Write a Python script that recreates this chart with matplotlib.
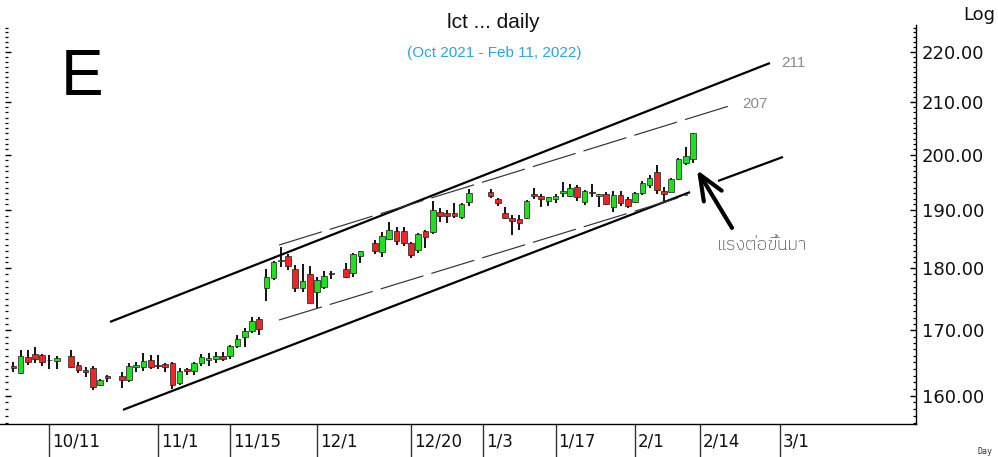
import numpy as np
import matplotlib
matplotlib.use("Agg")
import matplotlib.pyplot as plt
from matplotlib.ticker import FixedLocator, FixedFormatter, NullFormatter
import matplotlib.font_manager as fm
from matplotlib.ft2font import FT2Font

# ---------------- data (weekday index from 2021-10-11 = 0) ----------------
day_index = [-5, -4, -3, -2, -1, 0, 1, 3, 4, 5, 6, 7, 8, 10, 11, 12, 13, 14, 15, 16,
             17, 18, 19, 20, 21, 22, 23, 24, 25, 26, 27, 28, 29, 30, 31, 32, 33, 34, 35, 36,
             37, 38, 39, 41, 42, 43, 45, 46, 47, 48, 49, 50, 51, 52, 53, 54, 55, 56, 57, 58,
             61, 62, 63, 64, 65, 66, 67, 68, 69, 70, 71, 72, 73, 74, 75, 76, 77, 78, 79, 80,
             81, 82, 83, 84, 85, 86, 87, 88, 89]
opens = [164.5, 163.4, 165.8, 166.3, 166.1, 165.4, 165.2, 166.0, 164.6, 163.8, 164.1, 161.6, 162.9, 162.9, 162.3, 164.3, 164.3, 165.4, 164.6, 164.75,
         164.9, 161.9, 164.0, 163.7, 164.9, 165.4, 165.5, 166.0, 166.0, 167.5, 168.9, 169.9, 171.8, 176.8, 178.4, 181.3, 182.1, 179.9, 176.8, 179.1,
         176.1, 176.9, 179.3, 179.9, 179.3, 182.1, 184.3, 182.8, 185.0, 186.4, 186.4, 184.3, 183.1, 186.4, 186.2, 189.7, 189.5, 189.5, 188.8, 191.4,
         193.2, 192.0, 189.5, 188.6, 188.4, 188.6, 192.9, 192.5, 191.6, 192.0, 193.0, 192.5, 194.1, 191.4, 193.2, 192.5, 192.9, 190.6, 192.7, 192.0,
         191.4, 193.0, 194.5, 196.8, 193.4, 193.2, 195.6, 198.5, 199.2]
highs = [165.0, 166.9, 166.9, 167.4, 166.3, 166.1, 166.0, 166.9, 165.1, 164.3, 164.4, 162.5, 163.1, 163.5, 164.9, 165.1, 166.4, 166.1, 166.1, 164.9,
         165.0, 164.1, 164.1, 165.1, 166.3, 166.4, 166.6, 166.6, 167.7, 169.2, 170.3, 172.1, 172.1, 179.9, 181.2, 183.6, 182.4, 180.6, 180.7, 180.4,
         178.6, 179.6, 179.6, 180.9, 182.6, 182.9, 184.8, 186.2, 188.0, 187.0, 187.0, 184.5, 186.1, 186.5, 191.6, 190.4, 190.0, 191.2, 191.2, 193.7,
         193.7, 192.1, 190.6, 189.1, 189.1, 191.8, 193.9, 192.9, 192.3, 192.9, 195.0, 194.7, 194.5, 193.6, 194.7, 192.9, 193.2, 193.4, 193.4, 192.3,
         193.2, 195.2, 196.3, 198.1, 194.1, 195.7, 199.4, 201.4, 204.1]
lows = [163.5, 163.2, 164.6, 164.9, 164.4, 164.0, 164.0, 164.1, 163.4, 162.8, 160.8, 161.4, 162.0, 161.1, 162.0, 163.5, 163.7, 164.0, 164.0, 163.5,
        161.0, 161.6, 163.1, 163.1, 164.4, 164.4, 164.9, 165.2, 165.5, 167.2, 167.4, 169.5, 169.2, 174.7, 178.1, 180.3, 179.7, 176.1, 176.1, 174.3,
        173.5, 176.6, 178.3, 178.4, 178.6, 180.9, 182.4, 182.0, 184.8, 184.0, 183.8, 181.8, 182.6, 183.5, 185.8, 188.0, 187.8, 188.6, 188.4, 190.7,
        192.1, 190.7, 188.4, 185.7, 186.5, 188.4, 192.0, 190.6, 190.7, 191.2, 192.3, 192.3, 191.6, 190.9, 192.3, 190.6, 190.9, 189.7, 190.7, 190.4,
        191.2, 192.6, 194.0, 192.8, 191.6, 193.2, 195.4, 198.1, 198.5]
closes = [164.2, 166.0, 165.0, 165.5, 165.0, 165.3, 165.7, 164.3, 163.8, 163.5, 161.3, 162.3, 162.6, 162.3, 164.4, 164.6, 165.2, 164.3, 164.5, 164.3,
          161.6, 163.7, 163.7, 164.9, 165.8, 165.7, 166.0, 165.5, 167.5, 168.6, 169.9, 171.4, 170.2, 178.6, 181.1, 181.5, 180.4, 176.8, 177.9, 174.4,
          178.1, 178.8, 179.0, 178.6, 182.4, 182.9, 183.0, 185.5, 186.5, 184.6, 184.3, 182.3, 185.8, 185.3, 190.0, 189.0, 189.0, 189.0, 191.1, 193.0,
          192.5, 191.2, 188.6, 188.1, 187.7, 191.6, 192.5, 192.0, 192.3, 192.5, 193.4, 193.9, 192.3, 193.4, 193.0, 192.9, 191.1, 192.7, 191.2, 190.7,
          193.0, 194.8, 195.7, 193.6, 192.9, 195.6, 199.2, 199.8, 204.1]

# trend lines: (start index, start price, end index, end price)
upper_solid = [8.37, 171.3, 99.65, 217.75]
lower_solid_a = [10.17, 157.9, 88.6, 193.2]
lower_solid_b = [92.46, 195.2, 101.45, 199.6]
upper_dashed = [31.74, 183.95, 94.81, 209.6]
lower_dashed = [31.74, 171.6, 88.31, 192.7]

date_ticks = [0, 15, 25, 37, 50, 60, 70, 81, 90, 101]
date_labels = ["10/11", "11/1", "11/15", "12/1", "12/20", "1/3", "1/17", "2/1", "2/14", "3/1"]
price_ticks = [160, 170, 180, 190, 200, 210, 220]
price_labels = ["160.00", "170.00", "180.00", "190.00", "200.00", "210.00", "220.00"]

# ---------------- figure ----------------
W, H = 998, 457
fig = plt.figure(figsize=(W / 100, H / 100), dpi=100)
fig.patch.set_facecolor("white")

def fx(x):
    return x / W

def fy(y):
    return 1 - y / H

ax_left, ax_right, ax_top, ax_bot = 0, 916, 25, 424
ax = fig.add_axes([fx(ax_left), fy(ax_bot), (ax_right - ax_left) / W, (ax_bot - ax_top) / H])
ax.set_facecolor("white")
ax.set_yscale("log")
ax.set_xlim(-6.846, 119.85)
ax.set_ylim(155.84, 225.56)

# candles
x = np.array(day_index, dtype=float)
o = np.array(opens); h = np.array(highs); l = np.array(lows); c = np.array(closes)
up = c >= o
ax.vlines(x, l, h, color="black", lw=1.3, zorder=2)
body_lo = np.minimum(o, c)
body_hi = np.maximum(o, c)
colors = np.where(up, "#1fe01f", "#ee2626")
ax.bar(x, body_hi - body_lo, bottom=body_lo, width=0.78, color=colors,
       edgecolor="#1a1a1a", linewidth=0.5, zorder=3)

# trend lines
for seg in (upper_solid, lower_solid_a, lower_solid_b):
    ax.plot([seg[0], seg[2]], [seg[1], seg[3]], color="black", lw=1.6, zorder=4,
            solid_capstyle="butt")
for seg in (upper_dashed, lower_dashed):
    ax.plot([seg[0], seg[2]], [seg[1], seg[3]], color="#333333", lw=0.85, zorder=4,
            linestyle=(0, (38, 7)))

# axes styling
ax.spines["top"].set_visible(False)
ax.spines["left"].set_visible(False)
ax.spines["left"].set_position(("axes", 5 / 916))
ax.spines["right"].set_color("black")
ax.spines["bottom"].set_color("black")
ax.spines["right"].set_linewidth(1.0)
ax.spines["bottom"].set_linewidth(1.0)

minor = [v for v in range(156, 226) if v not in price_ticks]
ax.yaxis.set_major_locator(FixedLocator(price_ticks))
ax.yaxis.set_major_formatter(FixedFormatter(price_labels))
ax.yaxis.set_minor_locator(FixedLocator(minor))
ax.yaxis.set_minor_formatter(NullFormatter())
ax.tick_params(axis="y", which="both", left=True, right=True, labelleft=False,
               labelright=True, direction="in", color="black")
ax.tick_params(axis="y", which="major", length=4, width=1.0, pad=4, labelsize=13)
ax.tick_params(axis="y", which="minor", length=2.2, width=0.9)
for t in ax.get_yticklabels():
    t.set_family("DejaVu Sans")
    t.set_color("#111111")

ax.xaxis.set_major_locator(FixedLocator(date_ticks))
ax.xaxis.set_major_formatter(NullFormatter())
ax.xaxis.set_minor_locator(FixedLocator([]))
ax.tick_params(axis="x", which="major", direction="out", length=24, width=1.0,
               color="#333333", bottom=True, top=False)
for t, lab in zip(date_ticks, date_labels):
    ax.annotate(lab, xy=(t, 0), xycoords=("data", "axes fraction"),
                xytext=(3, -17), textcoords="offset pixels", ha="left", va="center",
                fontsize=12, family="DejaVu Sans", color="#111111", annotation_clip=False)

# ---------------- texts ----------------
fig.text(fx(82), fy(78), "E", fontsize=46, family="Liberation Sans", color="black",
         ha="center", va="center")
fig.text(fx(493), fy(23), "lct ... daily", fontsize=15, family="Liberation Sans",
         color="#111111", ha="center", va="center")
fig.text(fx(494), fy(53), "(Oct 2021 - Feb 11, 2022)", fontsize=11, family="Liberation Sans",
         color="#27a6e2", ha="center", va="center")
fig.text(fx(979), fy(15), "Log", fontsize=13, family="DejaVu Sans", color="#111111",
         ha="center", va="center")
fig.text(fx(985), fy(451), "Day", fontsize=6, family="DejaVu Sans Mono", color="#333333",
         ha="center", va="center")
fig.text(fx(793), fy(63), "211", fontsize=11, family="Liberation Sans", color="#8a8a8a",
         ha="center", va="center")
fig.text(fx(755), fy(104), "207", fontsize=11, family="Liberation Sans", color="#8a8a8a",
         ha="center", va="center")

# Thai font lookup: prefer a regular-weight face that has the Thai glyphs
def _is_regular(entry):
    w = entry.weight
    if isinstance(w, str):
        w = {"normal": 400, "regular": 400, "book": 400}.get(w.lower(), 700)
    return w <= 450 and entry.style == "normal"

thai_candidates = []
for f in fm.fontManager.ttflist:
    try:
        cmap = FT2Font(f.fname).get_charmap()
        if 0x0E41 in cmap and 0x0E07 in cmap and 0x0E49 in cmap:
            thai_candidates.append(f)
    except Exception:
        pass
thai_candidates.sort(key=lambda e: (0 if _is_regular(e) else 1,
                                    0 if "Sans" in e.name else 1))
if thai_candidates:
    thai_prop = fm.FontProperties(fname=thai_candidates[0].fname)
else:
    thai_prop = fm.FontProperties(family="DejaVu Sans")
thai_prop.set_size(13)
fig.text(fx(762), fy(245), "แรงต่อขึ้นมา", fontproperties=thai_prop, color="#333333",
         ha="center", va="center")

# arrow
ax.annotate("", xy=(89.56, 197.2), xytext=(94.4, 186.9), xycoords="data",
            arrowprops=dict(arrowstyle="->,head_length=1.8,head_width=0.75", lw=3.0,
                            color="black", shrinkA=0, shrinkB=0), zorder=6)

fig.savefig("out.png", dpi=100, facecolor="white")
